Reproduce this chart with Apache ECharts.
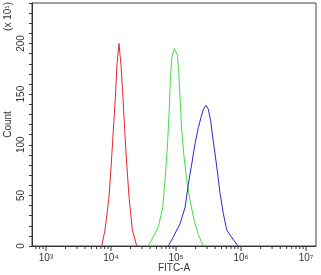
<!DOCTYPE html>
<html>
<head>
    <meta charset="utf-8">
    <title></title>
    <style>
        body{ margin: 0; background: #fff; }
        #main{ width: 321px; height: 275px; }
    </style>
    <script src="https://cdn.jsdelivr.net/npm/echarts@6/dist/echarts.min.js"></script>
</head>
<body>
<div id="main"></div>
<script>
    // FITC-A values (log axis) and counts
    var redX   = [7200, 8100, 9300, 10100, 10850, 11650, 12350, 13250, 14250, 15300, 16250, 17450, 18950, 21300, 24900];
    var redY   = [0, 16, 48, 81, 114, 146, 179, 200, 179, 146, 114, 81, 48, 16, 0];

    var greenX = [37100, 39800, 53500, 62400, 67700, 73500, 78000, 81700, 85900, 94200, 104700, 110100, 115300, 122500, 132800, 146200, 164100, 189100, 220300, 263000];
    var greenY = [0, 3, 19, 38, 65, 97, 130, 163, 186, 195, 189, 172, 146, 114, 88, 65, 45, 26, 11, 0];

    var blueX  = [76200, 90800, 115300, 137500, 154600, 174500, 196000, 220300, 242500, 263000, 289500, 314300, 342000, 367300, 398000, 431800, 475000, 534300, 602000, 727000, 900000];
    var blueY  = [0, 9, 22, 38, 61, 81, 101, 117, 127, 135, 139, 135, 123, 107, 91, 74, 52, 32, 16, 8, 0];

    var xMajor = [1e3, 1e4, 1e5, 1e6, 1e7];
    var xMajorLabels = ['10³', '10⁴', '10⁵', '10⁶', '10⁷'];

    function zip(xs, ys){
        var out = [];
        for(var i=0;i<xs.length;i++){ out.push([xs[i], ys[i]]); }
        return out;
    }

    // minor ticks on the log axis: 2..9 in each decade
    var minorTicks = [700, 800, 900];
    for(var d=3; d<=6; d++){
        for(var m=2; m<=9; m++){ minorTicks.push(m*Math.pow(10,d)); }
    }

    var xMin = 610, xMax = 1.42e7;
    var font = 'Liberation Sans, Arial, sans-serif';

    var chart = echarts.init(document.getElementById('main'));
    chart.setOption({
        animation: false,
        grid: {
            left: 32, right: 5, top: 3, bottom: 29,
            outerBoundsMode: 'none', containLabel: false,
            show: true, borderColor: '#444', borderWidth: 1
        },
        xAxis: {
            type: 'log', logBase: 10, min: xMin, max: xMax,
            name: 'FITC-A', nameLocation: 'middle', nameGap: 17, nameMoveOverlap: false,
            nameTextStyle: { fontSize: 10, color: '#333', fontFamily: font },
            axisLine: { lineStyle: { color: '#333', width: 1 } },
            axisTick: { show: false },
            splitLine: { show: false },
            axisLabel: {
                fontSize: 10, color: '#333', fontFamily: font, margin: 7,
                showMinLabel: true, showMaxLabel: true,
                formatter: function(v){
                    for(var i=0;i<xMajor.length;i++){
                        if(Math.abs(Math.log10(v) - Math.log10(xMajor[i])) < 1e-6) return xMajorLabels[i];
                    }
                    return '';
                }
            }
        },
        yAxis: {
            type: 'value', min: 0, max: 240, interval: 10,
            name: 'Count', nameLocation: 'middle', nameGap: 19, nameRotate: 90, nameMoveOverlap: false,
            nameTextStyle: { fontSize: 10, color: '#333', fontFamily: font },
            axisLine: { show: true, lineStyle: { color: '#333', width: 1 } },
            axisTick: { show: true, length: 3, lineStyle: { color: '#333' } },
            splitLine: { show: false },
            axisLabel: {
                rotate: 90, fontSize: 10, color: '#333', fontFamily: font, margin: 6,
                formatter: function(v){ return (v % 50 === 0 && v < 240) ? String(v) : ''; }
            }
        },
        graphic: [{
            type: 'text', left: 3, top: 2, rotation: Math.PI/2,
            style: { text: '(x 10¹)', fontSize: 10, fill: '#333', font: '10px ' + font }
        }],
        series: [
            {
                type: 'line', data: zip(redX, redY), showSymbol: false,
                lineStyle: { color: '#e8262e', width: 1 }, itemStyle: { color: '#e8262e' }
            },
            {
                type: 'line', data: zip(greenX, greenY), showSymbol: false,
                lineStyle: { color: '#44de44', width: 1 }, itemStyle: { color: '#44de44' }
            },
            {
                type: 'line', data: zip(blueX, blueY), showSymbol: false,
                lineStyle: { color: '#2a2ad0', width: 1 }, itemStyle: { color: '#2a2ad0' }
            },
            {
                // axis ticks for the log x axis, drawn through its scale
                type: 'custom', clip: false, silent: true,
                data: minorTicks.map(function(v){ return [v, 0, 3]; })
                    .concat(xMajor.map(function(v){ return [v, 0, 5]; })),
                renderItem: function(params, api){
                    var p = api.coord([api.value(0), api.value(1)]);
                    return {
                        type: 'line',
                        shape: { x1: p[0], y1: p[1], x2: p[0], y2: p[1] + api.value(2) },
                        style: { stroke: '#333', lineWidth: 1 }
                    };
                }
            }
        ]
    });
</script>
</body>
</html>
